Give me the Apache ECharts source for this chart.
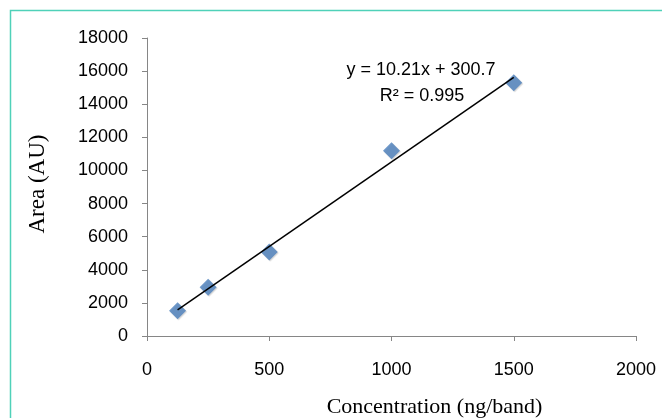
<!DOCTYPE html>
<html>
<head>
<meta charset="utf-8">
<script src="https://cdn.jsdelivr.net/npm/echarts@6/dist/echarts.min.js"></script>
<style>
  html, body { margin: 0; padding: 0; background: #fff; }
  #chart { width: 662px; height: 418px; }
</style>
</head>
<body>
<div id="chart"></div>
<script>
// values
const concentration = [125, 250, 500, 1000, 1500]
const area = [1525, 2950, 5080, 11190, 15290]

// linear trendline end points (y = 10.21x + 300.7)
const trendX = [125, 1500]
const trendY = [1577, 15616]

const equationText = 'y = 10.21x + 300.7'
const r2Text = 'R² = 0.995'

const axisGrey = '#868686'
const sansFont = '"Liberation Sans", Arial, sans-serif'
const serifFont = '"Liberation Serif", "Times New Roman", serif'

const myChart = echarts.init(document.getElementById('chart'))

const option = {
    animation: false,
    backgroundColor: '#fff',
    grid: { left: 147, right: 26, top: 38, bottom: 82 },
    xAxis: {
        type: 'value',
        min: 0,
        max: 2000,
        interval: 500,
        splitLine: { show: false },
        axisLine: { show: true, onZero: false, lineStyle: { color: axisGrey, width: 1 } },
        axisTick: { show: true, length: 5, lineStyle: { color: axisGrey } },
        axisLabel: { color: '#000', fontFamily: sansFont, fontSize: 18, margin: 25, formatter: v => String(v) }
    },
    yAxis: {
        type: 'value',
        min: 0,
        max: 18000,
        interval: 2000,
        splitLine: { show: false },
        axisLine: { show: true, lineStyle: { color: axisGrey, width: 1 } },
        axisTick: { show: true, length: 5, lineStyle: { color: axisGrey } },
        axisLabel: { color: '#000', fontFamily: sansFont, fontSize: 18, margin: 19, formatter: v => String(v) }
    },
    series: [
        {
            type: 'scatter',
            symbol: 'diamond',
            symbolSize: 17,
            itemStyle: {
                color: '#4A7EBB',
                shadowColor: 'rgba(0,0,0,0.2)',
                shadowBlur: 1,
                shadowOffsetX: 1,
                shadowOffsetY: 1
            },
            data: concentration.map((c, i) => [c, area[i]]),
            z: 2
        },
        {
            type: 'line',
            showSymbol: false,
            symbol: 'none',
            lineStyle: { color: '#000', width: 1.5 },
            data: trendX.map((x, i) => [x, trendY[i]]),
            z: 3
        }
    ],
    graphic: [
        {
            type: 'rect',
            silent: true,
            shape: { x: 10.5, y: 10.5, width: 700, height: 500 },
            style: { fill: 'none', stroke: '#4FD1B9', lineWidth: 1.5 }
        },
        {
            type: 'text',
            x: 421, y: 70,
            style: { text: equationText, fill: '#000', font: '18px ' + sansFont, align: 'center', verticalAlign: 'middle' }
        },
        {
            type: 'text',
            x: 422, y: 96,
            style: { text: r2Text, fill: '#000', font: '18px ' + sansFont, align: 'center', verticalAlign: 'middle' }
        },
        {
            type: 'text',
            x: 38, y: 184,
            rotation: Math.PI / 2,
            style: { text: 'Area (AU)', fill: '#000', font: '23px ' + serifFont, align: 'center', verticalAlign: 'middle' }
        },
        {
            type: 'text',
            x: 434.5, y: 407,
            style: { text: 'Concentration (ng/band)', fill: '#000', font: '22px ' + serifFont, align: 'center', verticalAlign: 'middle' }
        }
    ]
}

myChart.setOption(option)
</script>
</body>
</html>
